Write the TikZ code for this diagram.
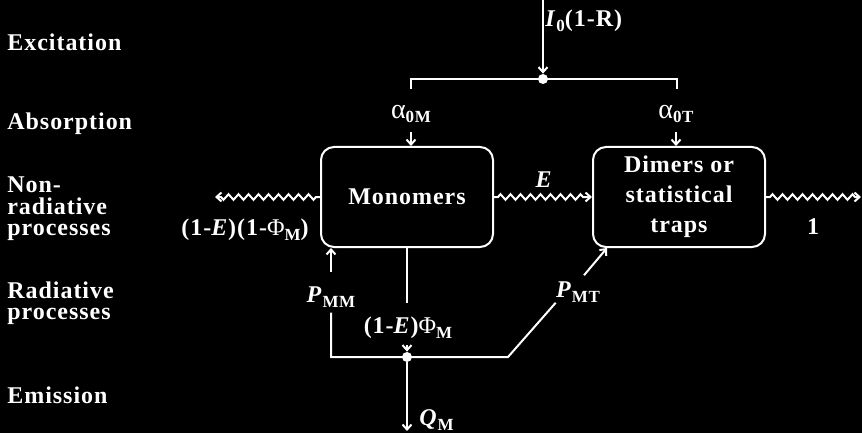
\documentclass[tikz,border=0pt]{standalone}
\usepackage{fontspec}
\setmainfont{Liberation Serif}
\newfontfamily\lblfont{Liberation Serif}[LetterSpace=4]
\usepackage{tikz}
\usetikzlibrary{arrows.meta, positioning, calc, decorations.pathmorphing}
\newcommand{\lidx}[1]{\raisebox{-0.45ex}{\fontsize{8.5}{9}\selectfont\bfseries #1}}
\tikzset{
  box/.style={rectangle, draw=white, text=white, line width=1pt,
    rounded corners=6.5pt, minimum width=86pt, minimum height=50pt,
    align=center, font={\fontsize{12}{15}\lblfont\bfseries}},
  rowlabel/.style={text=white, inner sep=0pt, anchor=west, align=left,
    font={\fontsize{12}{10.75}\lblfont\bfseries}},
  term/.style={text=white, inner sep=0pt,
    font={\fontsize{12}{14}\lblfont\bfseries}},
  link/.style={draw=white, line width=1pt},
  flow/.style={link, -{Straight Barb[length=2.5pt, width=4.5pt]}},
  wave/.style={flow, decorate, decoration={zigzag, amplitude=1.4pt,
    segment length=5pt, pre length=2pt, post length=3pt}},
  joint/.style={circle, fill=white, inner sep=0pt, minimum size=5pt}
}
\begin{document}
\begin{tikzpicture}[x=0.5pt, y=-0.5pt]
  \fill[black] (0,0) rectangle (862,433);
  \useasboundingbox (0,0) rectangle (862,433);

  % Row labels
  \node[rowlabel] (exc) at (7,42) {Excitation};
  \node[rowlabel] (abs) at (7,124) {Absorption};
  \node[rowlabel] (nrad) at (7,209) {Non-\\radiative\\processes};
  \node[rowlabel] (rad) at (7,303) {Radiative\\processes};
  \node[rowlabel] (emi) at (7,395) {Emission};

  % Blocks
  \node[box] (mono) at (407,197) {Monomers};
  \node[box] (dim) at (679,197) {Dimers or\\statistical\\traps};

  % Junctions and free ends
  \coordinate (top) at (543,0);
  \coordinate (bl) at (411,89);
  \coordinate (br) at (677,89);
  \coordinate (nrend) at (215,197);
  \coordinate (fluend) at (861,197);
  \coordinate (qend) at (407,431);
  \coordinate (kink) at (508,357);
  \draw[link] (bl) |- (543,79) -| (br);
  \node[joint] (split) at (543,79) {};
  \node[joint] (qdot) at (407,357) {};

  % Terms
  \node[term, anchor=west] (inc) at (545,21) {\textit{I}\lidx{0}(1-R)};
  \node[term] (a0m) at (411,114) {{\fontsize{14}{14}\selectfont\mdseries α}\lidx{0M}};
  \node[term] (a0t) at (676,114) {{\fontsize{14}{14}\selectfont\mdseries α}\lidx{0T}};
  \node[term] (nrq) at (245,230) {(1-\textit{E})(1-{\mdseries Φ}\lidx{M})};
  \node[term] (et) at (544,180) {\textit{E}};
  \node[term] (one) at (813,227) {1};
  \node[term] (phim) at (408,328) {(1-\textit{E}){\mdseries Φ}\lidx{M}};
  \node[term] (pmm) at (331,297) {\textit{P}\lidx{MM}};
  \node[term] (pmt) at (578,292) {\textit{P}\lidx{MT}};
  \node[term, anchor=west] (qm) at (419,420) {\textit{Q}\lidx{M}};

  % Paths
  \draw[flow] (top) -- (split);
  \draw[flow, shorten <=4pt] (a0m.south) -- (a0m.south |- mono.north);
  \draw[flow, shorten <=4pt] (a0t.south) -- (a0t.south |- dim.north);
  \draw[wave] (mono.west) -- (nrend);
  \draw[wave] (mono.east) -- (dim.west);
  \draw[wave] (dim.east) -- (fluend);
  \draw[link, shorten >=7pt] (mono.south) -- (mono.south |- phim.north);
  \draw[flow, shorten <=3pt] (phim.south -| qdot) -- (qdot);
  \draw[flow, shorten <=7pt] (pmm.north) -- (pmm.north |- mono.south);
  \draw[link, shorten <=2.5pt] (pmm.south) -- (pmm.south |- qdot) -- (kink) -- (pmt.south west);
  \draw[flow] ($(pmt.north)+(6,-6)$) -- ($(dim.south west)+(15,0)$);
  \draw[flow] (qdot) -- (qend);
\end{tikzpicture}
\end{document}
